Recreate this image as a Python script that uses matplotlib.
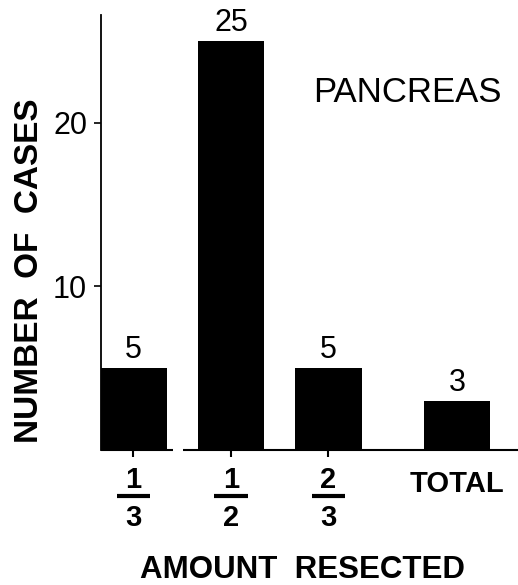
import matplotlib
matplotlib.use("Agg")
import matplotlib.pyplot as plt
import matplotlib.transforms as mtransforms

categories = ["1/3", "1/2", "2/3", "TOTAL"]
counts = [5, 25, 5, 3]
y_ticks = [10, 20]
title = "PANCREAS"
x_label = "AMOUNT RESECTED"
y_label = "NUMBER OF CASES"

positions = [0, 1, 2, 3.32]

W, H = 518, 585
fig = plt.figure(figsize=(W / 100, H / 100), dpi=100)
plt.rcParams['font.family'] = ['Liberation Sans', 'DejaVu Sans']

ax = fig.add_axes([101 / W, 135 / H, 417 / W, 435 / H])
ax.bar(positions, counts, width=0.68, color="black", edgecolor="black", linewidth=0)
ax.set_xlim(-0.333, 3.944)
ax.set_ylim(0, 26.57)

for s in ["top", "right", "bottom"]:
    ax.spines[s].set_visible(False)
ax.spines["left"].set_linewidth(1.3)

# broken baseline
ax.plot([-0.333, 0.405], [0, 0], color="black", lw=1.5, clip_on=False, solid_capstyle="butt")
ax.plot([0.507, 3.944], [0, 0], color="black", lw=1.5, clip_on=False, solid_capstyle="butt")

ax.set_yticks(y_ticks)
ax.set_yticklabels([str(v) for v in y_ticks], fontsize=22)
ax.tick_params(axis="y", direction="out", length=5, width=1.2, pad=5)

frac_pos = [p for p, c in zip(positions, categories) if "/" in c]
ax.set_xticks(frac_pos)
ax.set_xticklabels([""] * len(frac_pos))
ax.tick_params(axis="x", direction="out", length=5, width=1.5)

# value labels
for p, c in zip(positions, counts):
    ax.annotate(str(c), (p, c), xytext=(0, 7.2), textcoords="offset points",
                ha="center", va="baseline", fontsize=22)

blend = mtransforms.blended_transform_factory(ax.transData, fig.transFigure)

def fy(px):
    return 1 - px / H

for p, cat in zip(positions, categories):
    if "/" in cat:
        num, den = cat.split("/")
        fig.text(p, fy(488), num, transform=blend, ha="center", va="baseline",
                 fontsize=21, fontweight="bold")
        fig.text(p, fy(526), den, transform=blend, ha="center", va="baseline",
                 fontsize=21, fontweight="bold")
        line = plt.Line2D([p - 0.17, p + 0.17], [fy(496), fy(496)], transform=blend,
                          color="black", lw=3, solid_capstyle="butt")
        fig.add_artist(line)
    else:
        fig.text(p, fy(492), cat, transform=blend, ha="center", va="baseline",
                 fontsize=21, fontweight="bold")

fig.text(407 / W, fy(102), title, ha="center", va="baseline", fontsize=25)
fig.text(303 / W, fy(578), x_label.replace(" ", "  "), ha="center", va="baseline",
         fontsize=22.5, fontweight="bold")
fig.text(30 / W, fy(271), y_label.replace(" ", "  "), ha="center", va="center",
         rotation=90, fontsize=24, fontweight="bold")

fig.savefig("out.png", dpi=100)
